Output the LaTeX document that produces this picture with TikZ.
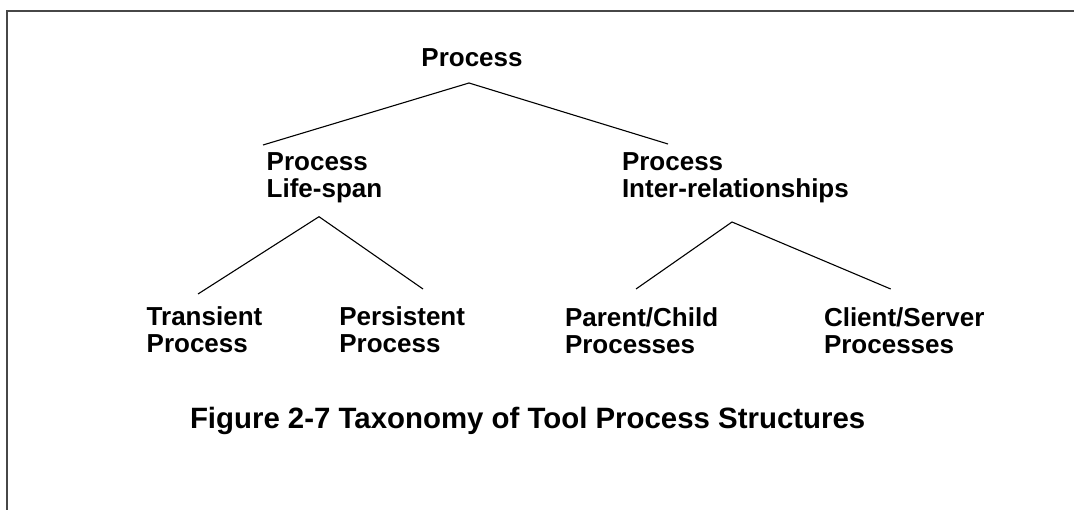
\documentclass[tikz,border=0pt]{standalone}
\usepackage{fontspec}
\setmainfont{Liberation Sans}
\usetikzlibrary{calc}
\begin{document}
\begin{tikzpicture}[x=1bp,y=-1bp,
  label/.style={inner sep=0pt,outer sep=0pt,align=left,anchor=base west,
    font=\fontsize{26bp}{27bp}\selectfont\bfseries},
  caption/.style={inner sep=0pt,outer sep=0pt,anchor=base west,
    font=\fontsize{29.4bp}{31bp}\selectfont\bfseries},
  branch/.style={draw=black,line width=1.1bp},
  frame/.style={draw=black!72,line width=1.5bp}]
  \useasboundingbox (0,0) rectangle (1074,510);
  % partial frame: top and left edges
  \draw[frame] (1074,11) -- (7,11) -- (7,510);

  % tree nodes (multi-line nodes sit on the baseline of their last line)
  \node[label,anchor=base] (root) at (472,66.7) {Process};
  \node[label] (life)   at (266.7,197.4) {Process\\Life-span};
  \node[label] (inter)  at (622,197.4)   {Process\\Inter-relationships};
  \node[label] (trans)  at (146.7,353)   {Transient\\Process};
  \node[label] (pers)   at (339.3,353)   {Persistent\\Process};
  \node[label] (parent) at (565,353.7)   {Parent/Child\\Processes};
  \node[label] (client) at (824,353.7)   {Client/Server\\Processes};

  \node[caption] (cap) at (190,428.3) {Figure 2-7 Taxonomy of Tool Process Structures};

  % branches
  \draw[branch] ($(life.base west)+(-3.7,-52.4)$) -- ($(root.base)+(-3,16.3)$)
                -- ($(inter.base west)+(46,-53.4)$);
  \draw[branch] ($(trans.base west)+(51.3,-59)$) -- ($(life.base west)+(52.3,19.3)$)
                -- ($(pers.base west)+(83.7,-64)$);
  \draw[branch] ($(parent.base west)+(71,-64.7)$) -- ($(inter.base west)+(110,24.6)$)
                -- ($(client.base west)+(66.7,-64.7)$);
\end{tikzpicture}
\end{document}
